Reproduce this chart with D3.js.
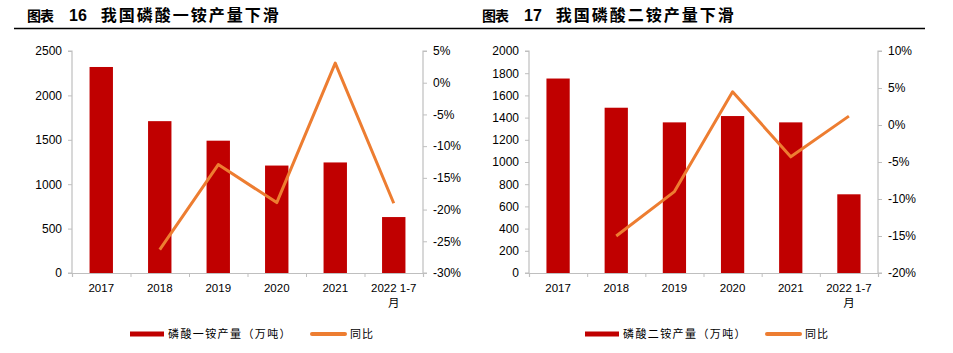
<!DOCTYPE html>
<html>
<head>
<meta charset="utf-8">
<script src="https://cdn.jsdelivr.net/npm/d3@7"></script>
<style>
  body { margin: 0; background: #fff; }
  svg text { font-family: "Liberation Sans", Arial, sans-serif; fill: #000; }
  .cjk { font-family: "Noto Sans CJK SC", sans-serif; }
</style>
</head>
<body>
<svg id="chart" width="953" height="353"></svg>
<script>
// 数据
const years = ["2017", "2018", "2019", "2020", "2021", "2022 1-7月"];

const mapOutput = [2320, 1710, 1490, 1210, 1245, 630];   // 磷酸一铵产量（万吨）
const mapYoY = [null, -26.3, -12.9, -18.9, 3.1, -19.0];  // 同比 %

const dapOutput = [1752, 1489, 1357, 1414, 1357, 709];   // 磷酸二铵产量（万吨）
const dapYoY = [null, -15.0, -9.0, 4.5, -4.3, 1.2];

const mapLeftTicks = [0, 500, 1000, 1500, 2000, 2500];
const mapRightTicks = [-30, -25, -20, -15, -10, -5, 0, 5];
const dapLeftTicks = [0, 200, 400, 600, 800, 1000, 1200, 1400, 1600, 1800, 2000];
const dapRightTicks = [-20, -15, -10, -5, 0, 5, 10];

const svg = d3.select("#chart");
const barColor = "#C00000";
const lineColor = "#ED7D31";
const axisColor = "#BFBFBF";

// 标题下的横线
svg.append("line")
  .attr("x1", 14).attr("x2", 925)
  .attr("y1", 28.5).attr("y2", 28.5)
  .attr("stroke", "#000").attr("stroke-width", 1.5);

function drawChart(opt) {
  const g = svg.append("g");

  // 标题
  const title = g.append("text")
    .attr("x", opt.titleX).attr("y", 21)
    .style("font-weight", "bold");
  title.append("tspan").attr("class", "cjk").style("font-size", "14px")
    .style("letter-spacing", "-1px").text("图表");
  title.append("tspan").attr("dx", 16).style("font-size", "16px").text(opt.num);
  title.append("tspan").attr("class", "cjk").attr("dx", 14)
    .style("font-size", "16px").style("letter-spacing", "2px").text(opt.title);

  const top = 51, bottom = 273;

  const x = d3.scaleBand()
    .domain(years)
    .range([opt.x0, opt.x1])
    .paddingInner(0.6)
    .paddingOuter(0.3);

  const yL = d3.scaleLinear().domain(d3.extent(opt.leftTicks)).range([bottom, top]);
  const yR = d3.scaleLinear().domain(d3.extent(opt.rightTicks)).range([bottom, top]);

  // 柱子
  g.selectAll(".bar")
    .data(opt.bars)
    .enter()
    .append("rect")
    .attr("x", (d, i) => x(years[i]))
    .attr("y", d => yL(d))
    .attr("width", x.bandwidth())
    .attr("height", d => yL(0) - yL(d))
    .attr("fill", barColor);

  // 左轴
  const left = g.append("g")
    .attr("transform", `translate(${opt.x0},0)`)
    .call(d3.axisLeft(yL).tickValues(opt.leftTicks).tickSize(4).tickPadding(6).tickFormat(d3.format("d")));

  // 右轴
  const right = g.append("g")
    .attr("transform", `translate(${opt.x1},0)`)
    .call(d3.axisRight(yR).tickValues(opt.rightTicks).tickSize(4).tickPadding(6).tickFormat(d => d + "%"));

  // X轴：分类边界刻度
  const xb = d3.scaleLinear().domain([0, years.length]).range([opt.x0, opt.x1]);
  const bottomAxis = g.append("g")
    .attr("transform", `translate(0,${bottom})`)
    .call(d3.axisBottom(xb).ticks(years.length).tickSize(4).tickFormat(""));

  [left, right, bottomAxis].forEach(a => {
    a.select(".domain").attr("stroke", axisColor).attr("stroke-width", 1.2);
    a.selectAll(".tick line").attr("stroke", axisColor);
    a.selectAll(".tick text").style("font-size", "12px").attr("fill", "#000");
  });
  left.select(".domain").attr("d", `M-4,${top}H0V${bottom}H-4`);
  right.select(".domain").attr("d", `M4,${top}H0V${bottom}H4`);

  // X轴标签
  const labels = g.selectAll(".xlab")
    .data(years)
    .enter()
    .append("text")
    .attr("text-anchor", "middle")
    .attr("x", d => x(d) + x.bandwidth() / 2)
    .attr("y", 292)
    .style("font-size", "11.5px");
  labels.each(function (d) {
    const t = d3.select(this);
    if (d.endsWith("月")) {
      t.append("tspan").text(d.slice(0, -1));
      t.append("tspan").attr("class", "cjk")
        .attr("x", x(d) + x.bandwidth() / 2).attr("dy", 15).text("月");
    } else {
      t.text(d);
    }
  });

  // 同比折线
  const line = d3.line()
    .defined(d => d != null)
    .x((d, i) => x(years[i]) + x.bandwidth() / 2)
    .y(d => yR(d));
  g.append("path")
    .datum(opt.yoy)
    .attr("d", line)
    .attr("fill", "none")
    .attr("stroke", lineColor)
    .attr("stroke-width", 3)
    .attr("stroke-linejoin", "round");

  // 图例
  const lg = g.append("g").attr("transform", `translate(${opt.legendX},334)`);
  lg.append("rect").attr("x", 0).attr("y", -2.5).attr("width", 34).attr("height", 5).attr("fill", barColor);
  lg.append("text").attr("class", "cjk").attr("x", 38).attr("y", 4)
    .style("font-size", "11px").style("letter-spacing", "1.4px").text(opt.legendName);
  lg.append("line").attr("x1", 182).attr("x2", 215).attr("y1", 0).attr("y2", 0)
    .attr("stroke", lineColor).attr("stroke-width", 4).attr("stroke-linecap", "round");
  lg.append("text").attr("class", "cjk").attr("x", 220).attr("y", 4)
    .style("font-size", "11px").style("letter-spacing", "1px").text("同比");
}

drawChart({
  titleX: 27, num: "16", title: "我国磷酸一铵产量下滑",
  x0: 72, x1: 423,
  bars: mapOutput, yoy: mapYoY,
  leftTicks: mapLeftTicks, rightTicks: mapRightTicks,
  legendX: 130, legendName: "磷酸一铵产量（万吨）"
});

drawChart({
  titleX: 482, num: "17", title: "我国磷酸二铵产量下滑",
  x0: 529, x1: 878,
  bars: dapOutput, yoy: dapYoY,
  leftTicks: dapLeftTicks, rightTicks: dapRightTicks,
  legendX: 585, legendName: "磷酸二铵产量（万吨）"
});
</script>
</body>
</html>
